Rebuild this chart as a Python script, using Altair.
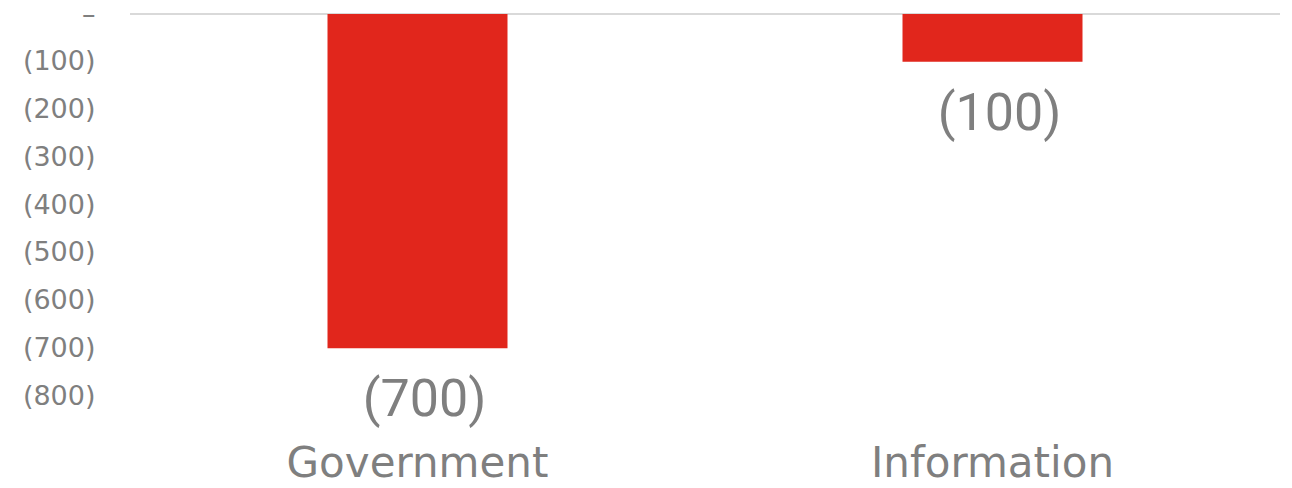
import altair as alt
import pandas as pd

categories = ["Government", "Information"]
values = [-700, -100]

df = pd.DataFrame({"category": categories, "value": values})

x = alt.X("category:N", sort=categories, title=None,
          scale=alt.Scale(paddingInner=0, paddingOuter=0),
          axis=alt.Axis(labelAngle=0, labelFont="DejaVu Sans", labelFontSize=42,
                        labelColor="#7f7f7f", labelPadding=47, labelLimit=0, ticks=False,
                        domain=False, grid=False))
y = alt.Y("value:Q", title=None,
          scale=alt.Scale(domain=[-800, 0], nice=False),
          axis=alt.Axis(values=[0, -100, -200, -300, -400, -500, -600, -700, -800],
                        labelExpr="datum.value == 0 ? '–\u2007\u2007' : '(' + format(abs(datum.value), ',') + ')'",
                        labelFont="DejaVu Sans", labelFontSize=27, labelColor="#7f7f7f",
                        labelPadding=35, ticks=False, domain=False, grid=False))

bars = alt.Chart(df).mark_bar(size=180, color="#E1261C").encode(x=x, y=y)
zero = alt.Chart(df).mark_rule(color="#d9d9d9", strokeWidth=2).encode(y=alt.datum(0))
text = alt.Chart(df).mark_text(dy=52, dx=7, baseline="middle", font="Roboto", fontSize=52,
                                color="#7f7f7f").encode(
    x=alt.X("category:N", sort=categories),
    y="value:Q",
    text=alt.Text("label:N"),
).transform_calculate(label="'(' + format(abs(datum.value), ',') + ')'")

chart = alt.layer(zero, bars, text).properties(
    width=1150, height=382,
    autosize=alt.AutoSizeParams(type="none"),
    padding={"left": 130, "top": 14, "right": 12, "bottom": 92},
).configure_view(stroke=None)

chart.save("out.html", embed_options={"renderer": "svg", "actions": False})
